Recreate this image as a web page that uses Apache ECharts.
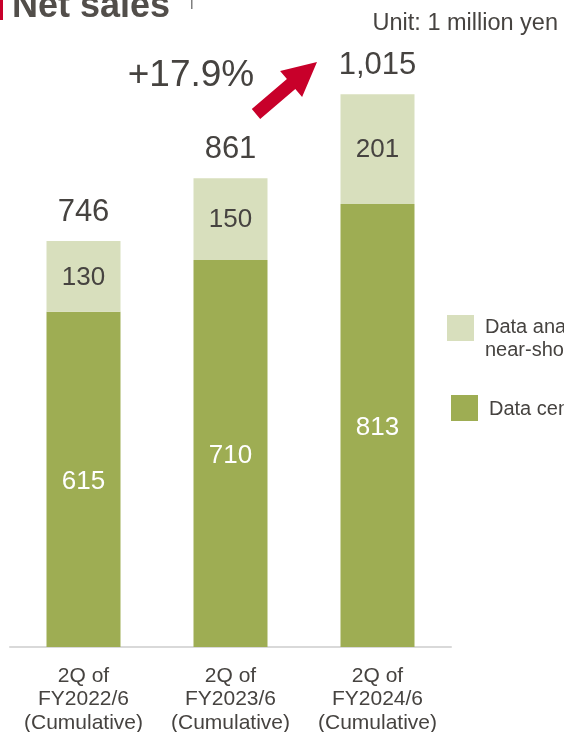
<!DOCTYPE html>
<html>
<head>
<meta charset="utf-8">
<script src="https://cdn.jsdelivr.net/npm/echarts@6/dist/echarts.min.js"></script>
<style>
  html, body { margin: 0; padding: 0; background: #ffffff; }
  #chart { width: 564px; height: 732px; }
</style>
</head>
<body>
<div id="chart"></div>
<script>
// Net sales by half-year period, in millions of yen
const periods = ['2Q of\nFY2022/6\n(Cumulative)', '2Q of\nFY2023/6\n(Cumulative)', '2Q of\nFY2024/6\n(Cumulative)'];
const dataCenter = [615, 710, 813];
const dataAnalysis = [130, 150, 201];
const totals = [746, 861, 1015];
const seriesNames = ['Data center', 'Data analysis and\nnear-shore development'];

const darkGreen = '#9EAD53';
const lightGreen = '#D8DFBD';
const textColor = '#464340';
const font = '"Liberation Sans", Arial, sans-serif';

const chart = echarts.init(document.getElementById('chart'), null, { renderer: 'canvas' });

const fmtNum = v => v.toLocaleString('en-US');

chart.setOption({
  animation: false,
  textStyle: { fontFamily: font },
  grid: { left: 10, right: 113, top: 47.5, bottom: 85, containLabel: false, outerBoundsMode: 'none' },
  xAxis: {
    type: 'category',
    data: periods,
    axisLine: { lineStyle: { color: '#d9d9d9', width: 2 } },
    axisTick: { show: false },
    axisLabel: { interval: 0, color: textColor, fontSize: 21, lineHeight: 23.5, margin: 17, fontFamily: font }
  },
  yAxis: {
    type: 'value',
    min: 0,
    max: 1100,
    show: false,
    splitLine: { show: false }
  },
  series: [
    {
      name: seriesNames[0],
      type: 'bar',
      stack: 'sales',
      barWidth: 74,
      data: dataCenter,
      itemStyle: { color: darkGreen },
      label: { show: true, position: 'inside', offset: [0, 2], color: '#ffffff', fontSize: 26, fontFamily: font, formatter: p => fmtNum(p.value) }
    },
    {
      name: seriesNames[1],
      type: 'bar',
      stack: 'sales',
      barWidth: 74,
      data: dataAnalysis,
      itemStyle: { color: lightGreen },
      label: { show: true, position: 'inside', offset: [0, 1], color: textColor, fontSize: 26, fontFamily: font, formatter: p => fmtNum(p.value) }
    },
    {
      name: 'Total',
      type: 'bar',
      stack: 'sales',
      barWidth: 74,
      data: totals.map(() => 0),
      itemStyle: { color: 'transparent' },
      label: {
        show: true, position: 'top', distance: 13, color: textColor, fontSize: 31, fontFamily: font,
        formatter: p => fmtNum(totals[p.dataIndex])
      }
    }
  ],
  graphic: [
    // title marker and heading
    { type: 'rect', shape: { x: 0, y: 0, width: 3, height: 20 }, style: { fill: '#C8002A' } },
    { type: 'text', x: 12, y: 7, style: { text: 'Net sales', font: 'bold 36px ' + font, fill: '#524E4A', verticalAlign: 'middle' } },
    { type: 'rect', shape: { x: 191, y: 0, width: 1.5, height: 9 }, style: { fill: '#7f7f7f' } },
    { type: 'text', x: 558, y: 24, style: { text: 'Unit: 1 million yen', font: '23.5px ' + font, fill: textColor, align: 'right', verticalAlign: 'middle' } },
    // growth annotation
    { type: 'text', x: 191, y: 76, style: { text: '+17.9%', font: '37px ' + font, fill: textColor, align: 'center', verticalAlign: 'middle' } },
    {
      type: 'polygon',
      shape: { points: [[251.8, 109.1], [286.9, 79.1], [280.1, 71.1], [317, 62], [302.1, 96.9], [295.3, 88.9], [260.2, 118.9]] },
      style: { fill: '#C8002A' }
    },
    // legend
    { type: 'rect', shape: { x: 447, y: 315, width: 27, height: 26 }, style: { fill: lightGreen } },
    { type: 'text', x: 485, y: 315.5, style: { text: seriesNames[1], font: '20px ' + font, fill: textColor, lineHeight: 23 } },
    { type: 'rect', shape: { x: 451, y: 395, width: 27, height: 26 }, style: { fill: darkGreen } },
    { type: 'text', x: 489, y: 409, style: { text: seriesNames[0], font: '20px ' + font, fill: textColor, verticalAlign: 'middle' } }
  ]
});
</script>
</body>
</html>
